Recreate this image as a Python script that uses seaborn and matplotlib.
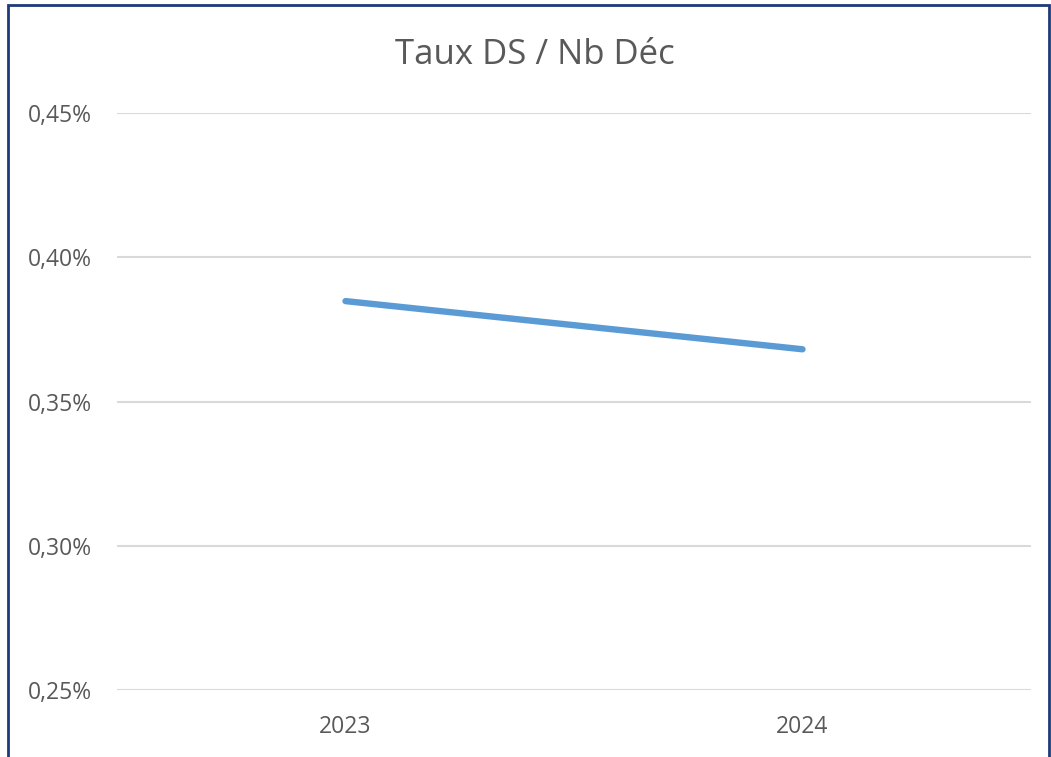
import matplotlib
matplotlib.use("Agg")
import matplotlib.pyplot as plt
import seaborn as sns
import pandas as pd
from matplotlib.patches import Rectangle

years = ["2023", "2024"]
rates = [0.3848, 0.3681]
yticks = [0.25, 0.30, 0.35, 0.40, 0.45]
ytick_labels = ["0,25%", "0,30%", "0,35%", "0,40%", "0,45%"]
title = "Taux DS / Nb Déc"

sns.set_theme(style="white")
plt.rcParams['font.family'] = ['Open Sans', 'DejaVu Sans']

df = pd.DataFrame({"year": years, "rate": rates})

fig = plt.figure(figsize=(10.51, 7.57), dpi=100)
ax = fig.add_axes([117/1051, 1-690/757, (1031-117)/1051, (690-113)/757])

for y in yticks:
    ax.axhline(y, color="#D9D9D9", lw=1.5, zorder=0)

sns.lineplot(data=df, x="year", y="rate", ax=ax, color="#5B9BD5", lw=4.6,
             solid_capstyle="round", sort=False)

ax.set_xlim(-0.5, 1.5)
ax.set_ylim(0.25, 0.45)
ax.set_yticks(yticks)
ax.set_yticklabels(ytick_labels)
ax.tick_params(axis="both", length=0, labelsize=16.5, labelcolor="#595959")
ax.tick_params(axis="y", pad=18)
ax.tick_params(axis="x", pad=18)
ax.set_xlabel("")
ax.set_ylabel("")
for s in ax.spines.values():
    s.set_visible(False)

fig.text(535/1051, 1-55/757, title, ha="center", va="center", fontsize=25, color="#595959")

fig.patches.append(Rectangle((8/1051, -0.05), (1049-8)/1051, 1.05-5/757,
                             transform=fig.transFigure, fill=False,
                             edgecolor="#1F3A7A", lw=2, zorder=10))

fig.savefig("out.png", dpi=100)
